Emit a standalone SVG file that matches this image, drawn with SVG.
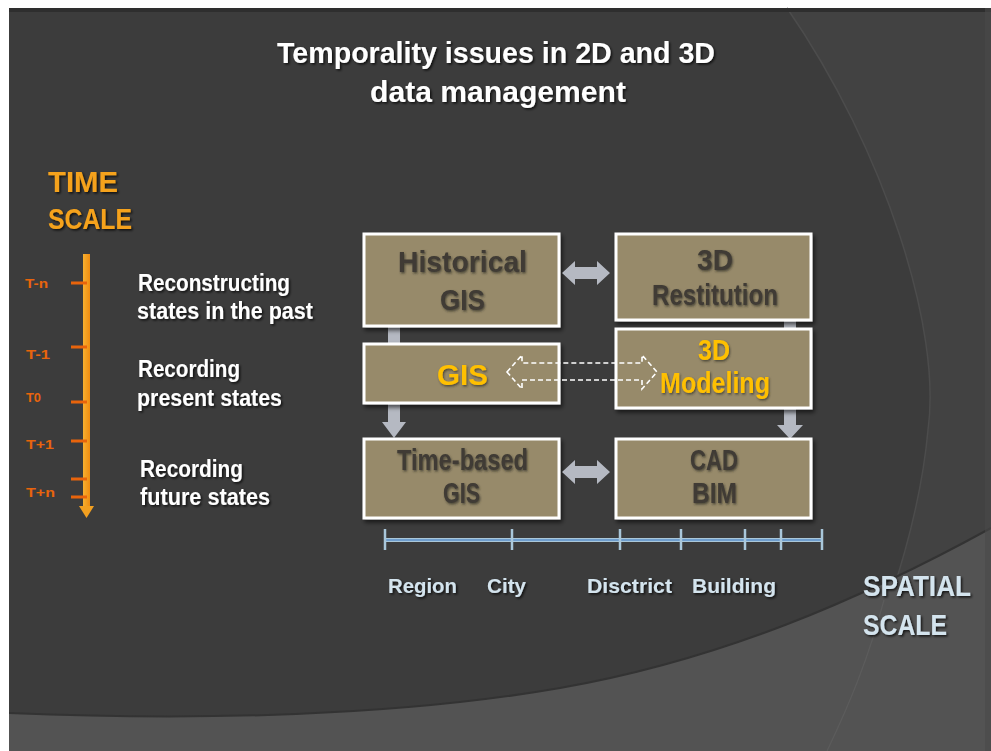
<svg xmlns="http://www.w3.org/2000/svg" width="991" height="751" viewBox="0 0 991 751">
<defs>
<filter id="ts" x="-10%" y="-30%" width="130%" height="170%">
<feDropShadow dx="1.5" dy="1.5" stdDeviation="1" flood-color="#000" flood-opacity="0.75"/>
</filter>
<filter id="bs" x="-10%" y="-10%" width="130%" height="130%">
<feDropShadow dx="2" dy="3" stdDeviation="2" flood-color="#000" flood-opacity="0.6"/>
</filter>
<filter id="glow" x="-10%" y="-30%" width="130%" height="170%">
<feDropShadow dx="1" dy="1.5" stdDeviation="1.2" flood-color="#2a2620" flood-opacity="0.7"/>
</filter>
<linearGradient id="og" x1="0" y1="0" x2="1" y2="0">
<stop offset="0" stop-color="#f7b030"/>
<stop offset="1" stop-color="#ef8c10"/>
</linearGradient>
</defs>
<style>
text{font-family:"Liberation Sans",Arial,sans-serif;font-weight:bold}
.title{fill:#ffffff;font-size:29px}
.ts{fill:#f5a21b;font-size:30px}
.tl{fill:#e8640c;font-size:13px}
.desc{fill:#ffffff;font-size:23px}
.bt{fill:#3f3b34;font-size:29px}
.yt{fill:#ffc000}
.sl{fill:#d4e4ee;font-size:21px}
.ss{fill:#d4e4ee;font-size:30px}
.box{fill:#978a6b;stroke:#ffffff;stroke-width:3}
.tick{stroke:#e8640c;stroke-width:3}
.stick{stroke:#a9c7da;stroke-width:2.5}
.garrow{fill:#b5b9c2}
</style>

<!-- background -->
<rect x="0" y="0" width="991" height="751" fill="#ffffff"/>
<rect x="9" y="8" width="982" height="743" fill="#3c3c3c"/>
<path d="M787,8 C885,150 942,330 928,430 C918,540 872,660 827,751 L991,751 L991,8 Z" fill="#424242"/>
<path d="M787,8 C885,150 942,330 928,430 C918,540 872,660 827,751" fill="none" stroke="#4c4c4c" stroke-width="1.5"/>
<path d="M9,713 C200,721 400,716 560,688 C720,660 860,600 991,528 L991,751 L9,751 Z" fill="#535353"/>
<path d="M9,713 C200,721 400,716 560,688 C720,660 860,600 991,528" fill="none" stroke="#333333" stroke-width="2"/>
<path d="M884,600 C868,660 849,705 827,751" fill="none" stroke="#5c5c5c" stroke-width="1.2"/>
<rect x="9" y="8" width="982" height="4" fill="#2e2e2e"/>
<rect x="985" y="8" width="6" height="743" fill="#4a4a4a" opacity="0.6"/>

<g id="title" filter="url(#ts)">
<text class="title" x="277" y="63" textLength="438" lengthAdjust="spacingAndGlyphs">Temporality issues in 2D and 3D</text>
<text class="title" x="370" y="102" textLength="256" lengthAdjust="spacingAndGlyphs">data management</text>
</g>

<g id="time-scale-label" filter="url(#ts)">
<text class="ts" x="48" y="192" textLength="70" lengthAdjust="spacingAndGlyphs">TIME</text>
<text class="ts" x="48" y="229" textLength="84" lengthAdjust="spacingAndGlyphs">SCALE</text>
</g>

<g id="time-axis">
<rect x="83" y="254" width="7" height="254" fill="url(#og)"/>
<path d="M79,506 L94,506 L86.5,518 Z" fill="#f3a020"/>
<line class="tick" x1="71" y1="283" x2="87" y2="283"/>
<line class="tick" x1="71" y1="347" x2="87" y2="347"/>
<line class="tick" x1="71" y1="402" x2="87" y2="402"/>
<line class="tick" x1="71" y1="441" x2="87" y2="441"/>
<line class="tick" x1="71" y1="479" x2="87" y2="479"/>
<line class="tick" x1="71" y1="497" x2="87" y2="497"/>
<text class="tl" x="25" y="288" textLength="23" lengthAdjust="spacingAndGlyphs">T-n</text>
<text class="tl" x="26" y="359" textLength="24" lengthAdjust="spacingAndGlyphs">T-1</text>
<text class="tl" x="26" y="402" textLength="15" lengthAdjust="spacingAndGlyphs">T0</text>
<text class="tl" x="26" y="449" textLength="28" lengthAdjust="spacingAndGlyphs">T+1</text>
<text class="tl" x="26" y="497" textLength="29" lengthAdjust="spacingAndGlyphs">T+n</text>
</g>

<g id="time-descriptions" filter="url(#ts)">
<text class="desc" x="138" y="291" textLength="152" lengthAdjust="spacingAndGlyphs">Reconstructing</text>
<text class="desc" x="137" y="319" textLength="176" lengthAdjust="spacingAndGlyphs">states in the past</text>
<text class="desc" x="138" y="377" textLength="102" lengthAdjust="spacingAndGlyphs">Recording</text>
<text class="desc" x="137" y="406" textLength="145" lengthAdjust="spacingAndGlyphs">present states</text>
<text class="desc" x="140" y="477" textLength="103" lengthAdjust="spacingAndGlyphs">Recording</text>
<text class="desc" x="140" y="505" textLength="130" lengthAdjust="spacingAndGlyphs">future states</text>
</g>

<g id="connectors-vertical">
<path class="garrow" d="M388,325 L400,325 L400,422 L406,422 L394,438 L382,422 L388,422 Z"/>
<path class="garrow" d="M784,318 L796,318 L796,425 L803,425 L790,439 L777,425 L784,425 Z"/>
</g>

<g id="node-historical-gis">
<rect class="box" x="364" y="234" width="195" height="92" filter="url(#bs)"/>
<g filter="url(#glow)">
<text class="bt" x="398" y="272" textLength="129" lengthAdjust="spacingAndGlyphs">Historical</text>
<text class="bt" x="440" y="310" textLength="45" lengthAdjust="spacingAndGlyphs">GIS</text>
</g>
</g>

<g id="node-3d-restitution">
<rect class="box" x="616" y="234" width="195" height="86" filter="url(#bs)"/>
<g filter="url(#glow)">
<text class="bt" x="697" y="270" textLength="36" lengthAdjust="spacingAndGlyphs">3D</text>
<text class="bt" x="652" y="305" font-size="25" textLength="126" lengthAdjust="spacingAndGlyphs">Restitution</text>
</g>
</g>

<g id="node-gis">
<rect class="box" x="364" y="344" width="195" height="59" filter="url(#bs)"/>
<text class="bt yt" x="437" y="385" font-size="31" textLength="51" lengthAdjust="spacingAndGlyphs" filter="url(#glow)">GIS</text>
</g>

<g id="node-3d-modeling">
<rect class="box" x="616" y="329" width="195" height="79" filter="url(#bs)"/>
<g filter="url(#glow)">
<text class="bt yt" x="698" y="360" font-size="25" textLength="32" lengthAdjust="spacingAndGlyphs">3D</text>
<text class="bt yt" x="660" y="393" font-size="25" textLength="110" lengthAdjust="spacingAndGlyphs">Modeling</text>
</g>
</g>

<g id="node-time-based-gis">
<rect class="box" x="364" y="439" width="195" height="79" filter="url(#bs)"/>
<g filter="url(#glow)">
<text class="bt" x="397" y="470" font-size="25" textLength="131" lengthAdjust="spacingAndGlyphs">Time-based</text>
<text class="bt" x="443" y="503" font-size="25" textLength="37" lengthAdjust="spacingAndGlyphs">GIS</text>
</g>
</g>

<g id="node-cad-bim">
<rect class="box" x="616" y="439" width="195" height="79" filter="url(#bs)"/>
<g filter="url(#glow)">
<text class="bt" x="690" y="470" font-size="25" textLength="48" lengthAdjust="spacingAndGlyphs">CAD</text>
<text class="bt" x="692" y="503" font-size="25" textLength="45" lengthAdjust="spacingAndGlyphs">BIM</text>
</g>
</g>

<g id="connectors">
<path class="garrow" d="M562,273 L575,261 L575,267 L597,267 L597,261 L610,273 L597,285 L597,279 L575,279 L575,285 Z"/>
<path class="garrow" d="M562,472 L575,460 L575,466 L597,466 L597,460 L610,472 L597,484 L597,478 L575,478 L575,484 Z"/>
<path d="M507,372 L522,355 L522,363 L642,363 L642,355 L657,372 L642,389 L642,380 L522,380 L522,389 Z" fill="none" stroke="#ffffff" stroke-width="1.6" stroke-dasharray="5,3"/>
</g>

<g id="spatial-axis">
<line x1="385" y1="540" x2="822" y2="540" stroke="#a9c7da" stroke-width="4"/>
<line x1="385" y1="540" x2="822" y2="540" stroke="#5b8fc8" stroke-width="1.6"/>
<line class="stick" x1="385" y1="529" x2="385" y2="550"/>
<line class="stick" x1="512" y1="529" x2="512" y2="550"/>
<line class="stick" x1="620" y1="529" x2="620" y2="550"/>
<line class="stick" x1="681" y1="529" x2="681" y2="550"/>
<line class="stick" x1="745" y1="529" x2="745" y2="550"/>
<line class="stick" x1="781" y1="529" x2="781" y2="550"/>
<line class="stick" x1="822" y1="529" x2="822" y2="550"/>
<g filter="url(#ts)">
<text class="sl" x="388" y="593" textLength="69" lengthAdjust="spacingAndGlyphs">Region</text>
<text class="sl" x="487" y="593" textLength="39" lengthAdjust="spacingAndGlyphs">City</text>
<text class="sl" x="587" y="593" textLength="85" lengthAdjust="spacingAndGlyphs">Disctrict</text>
<text class="sl" x="692" y="593" textLength="84" lengthAdjust="spacingAndGlyphs">Building</text>
</g>
</g>

<g id="spatial-scale-label" filter="url(#ts)">
<text class="ss" x="863" y="596" textLength="108" lengthAdjust="spacingAndGlyphs">SPATIAL</text>
<text class="ss" x="863" y="635" textLength="84" lengthAdjust="spacingAndGlyphs">SCALE</text>
</g>
</svg>
